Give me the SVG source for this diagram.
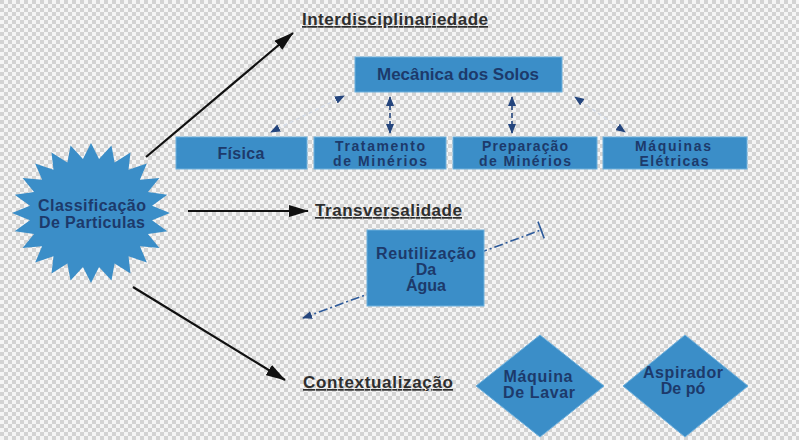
<svg xmlns="http://www.w3.org/2000/svg" width="799" height="440" viewBox="0 0 799 440">
  <defs>
    <!-- transparency-style checker background -->
    <pattern id="checker" width="8" height="8" patternUnits="userSpaceOnUse">
      <rect width="8" height="8" fill="#f5f5f5"/>
      <rect width="4" height="4" fill="#d3d3d3"/>
      <rect x="4" y="4" width="4" height="4" fill="#d3d3d3"/>
    </pattern>
    <marker id="bigArrow" viewBox="0 0 20 12" refX="19" refY="6" markerWidth="20" markerHeight="12" markerUnits="userSpaceOnUse" orient="auto">
      <path d="M0,0 L20,6 L0,12 z" fill="#111"/>
    </marker>
    <marker id="navyArrow" viewBox="0 0 10 8" refX="9" refY="4" markerWidth="10" markerHeight="8" markerUnits="userSpaceOnUse" orient="auto-start-reverse">
      <path d="M0,0 L10,4 L0,8 z" fill="#24457d"/>
    </marker>
  </defs>
  <style>
    .shape { fill: #3b8ec8; stroke: #6fb0dc; stroke-width: 1; }
    .lbl { font-family: "Liberation Sans", Arial, sans-serif; font-size: 16px; font-weight: bold; fill: #1d3a6b; text-anchor: middle; }
    .two { font-size: 14px; }
    .head { font-family: "Liberation Sans", Arial, sans-serif; font-size: 17px; font-weight: bold; fill: #2e2e2e; text-decoration: underline; }
    .black { stroke: #111; stroke-width: 2.2; fill: none; }
    .dash { stroke: #24457d; stroke-width: 1.6; stroke-dasharray: 5 3; fill: none; }
    .faint { stroke: #d4dbe6; stroke-width: 1.6; stroke-dasharray: 4 3; fill: none; }
  </style>

  <rect width="799" height="440" fill="url(#checker)"/>

  <g id="connectors">
    <line class="black" x1="146" y1="157" x2="293" y2="33" marker-end="url(#bigArrow)"/>
    <line class="black" x1="188" y1="211" x2="308" y2="211" marker-end="url(#bigArrow)"/>
    <line class="black" x1="133" y1="287" x2="285" y2="380" marker-end="url(#bigArrow)"/>

    <line class="faint" x1="271" y1="132" x2="344" y2="96" marker-start="url(#navyArrow)" marker-end="url(#navyArrow)"/>
    <line class="dash" x1="390" y1="97" x2="390" y2="133" marker-start="url(#navyArrow)" marker-end="url(#navyArrow)"/>
    <line class="dash" x1="512" y1="97" x2="512" y2="133" marker-start="url(#navyArrow)" marker-end="url(#navyArrow)"/>
    <line class="faint" x1="575" y1="97" x2="625" y2="132" marker-start="url(#navyArrow)" marker-end="url(#navyArrow)"/>

    <line x1="303" y1="318" x2="541" y2="230" stroke="#2d5a9a" stroke-width="1.6" stroke-dasharray="9 3 2 3" marker-start="url(#navyArrow)"/>
    <line x1="538" y1="221.6" x2="544.2" y2="238.4" stroke="#2d5a9a" stroke-width="1.6"/>
  </g>

  <g id="classificacao">
    <polygon class="shape" style="stroke:none" transform="translate(91,213) scale(0.79,0.70)"
      points="100,0 77.3,10.2 96.6,25.9 72.1,29.9 86.6,50 61.9,47.5 70.7,70.7 47.5,61.9 50,86.6 29.9,72.1 25.9,96.6 10.2,77.3 0,100 -10.2,77.3 -25.9,96.6 -29.9,72.1 -50,86.6 -47.5,61.9 -70.7,70.7 -61.9,47.5 -86.6,50 -72.1,29.9 -96.6,25.9 -77.3,10.2 -100,0 -77.3,-10.2 -96.6,-25.9 -72.1,-29.9 -86.6,-50 -61.9,-47.5 -70.7,-70.7 -47.5,-61.9 -50,-86.6 -29.9,-72.1 -25.9,-96.6 -10.2,-77.3 0,-100 10.2,-77.3 25.9,-96.6 29.9,-72.1 50,-86.6 47.5,-61.9 70.7,-70.7 61.9,-47.5 86.6,-50 72.1,-29.9 96.6,-25.9 77.3,-10.2"/>
    <text class="lbl" x="92" y="211" textLength="108">Classificação</text>
    <text class="lbl" x="92" y="228" textLength="106">De Particulas</text>
  </g>

  <g id="label-interdisciplinariedade">
    <text class="head" x="302" y="25" textLength="186">Interdisciplinariedade</text>
  </g>
  <g id="label-transversalidade">
    <text class="head" x="315" y="216" textLength="147">Transversalidade</text>
  </g>
  <g id="label-contextualizacao">
    <text class="head" x="303" y="388" textLength="150">Contextualização</text>
  </g>

  <g id="mecanica">
    <rect class="shape" x="355" y="57" width="207" height="35"/>
    <text class="lbl" style="font-size:17px" x="458" y="80" textLength="162">Mecânica dos Solos</text>
  </g>

  <g id="fisica">
    <rect class="shape" x="176" y="137" width="131" height="32"/>
    <text class="lbl" x="241" y="159" textLength="47">Física</text>
  </g>

  <g id="tratamento">
    <rect class="shape" x="314" y="137" width="132" height="32"/>
    <text class="lbl two" x="380" y="151" textLength="90">Tratamento</text>
    <text class="lbl two" x="380" y="166" textLength="94">de Minérios</text>
  </g>

  <g id="preparacao">
    <rect class="shape" x="453" y="137" width="144" height="32"/>
    <text class="lbl two" x="525" y="151" textLength="86">Preparação</text>
    <text class="lbl two" x="525" y="166" textLength="92">de Minérios</text>
  </g>

  <g id="maquinas-eletricas">
    <rect class="shape" x="603" y="137" width="144" height="32"/>
    <text class="lbl two" x="673" y="151" textLength="76">Máquinas</text>
    <text class="lbl two" x="674" y="166" textLength="69">Elétricas</text>
  </g>

  <g id="reutilizacao">
    <rect class="shape" x="367" y="230" width="117" height="76"/>
    <text class="lbl" x="426" y="259" textLength="100">Reutilização</text>
    <text class="lbl" x="426" y="275">Da</text>
    <text class="lbl" x="426" y="291">Água</text>
  </g>

  <g id="maquina-lavar">
    <polygon class="shape" points="540,335 604,386 540,437 476,386"/>
    <text class="lbl" x="538" y="382" textLength="69">Máquina</text>
    <text class="lbl" x="539" y="398" textLength="72">De Lavar</text>
  </g>

  <g id="aspirador">
    <polygon class="shape" points="685,335 748,386 685,437 623,386"/>
    <text class="lbl" x="683" y="378" textLength="80">Aspirador</text>
    <text class="lbl" x="683" y="394">De pó</text>
  </g>
</svg>
